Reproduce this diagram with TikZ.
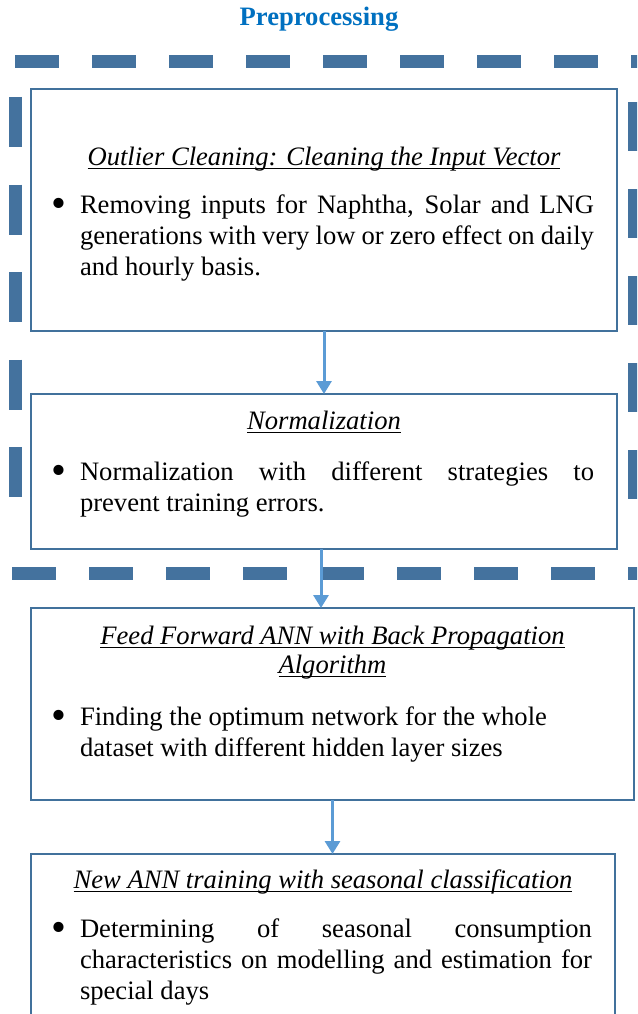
\documentclass[tikz,border=0pt]{standalone}
\usepackage{fontspec}
\setmainfont{Liberation Serif}
\usetikzlibrary{arrows.meta}
\definecolor{framecol}{RGB}{68,114,158}
\definecolor{boxcol}{RGB}{65,113,156}
\definecolor{arrowcol}{RGB}{91,155,213}
\definecolor{titlecol}{RGB}{0,112,192}
\hyphenpenalty=10000
\exhyphenpenalty=10000
\tolerance=10000
\newcommand{\stageul}[1]{\leavevmode\setbox0\hbox{#1}\rlap{\rule[-4pt]{\wd0}{1.5pt}}\box0}
\newcommand{\stagehead}[2][17.5pt]{{\centering\stageul{\textit{#2}}\par}\vspace{#1}}
\newcommand{\bitem}[1]{\noindent\hangindent=26pt\hangafter=1\makebox[26pt][l]{\hspace{-3pt}\raisebox{-4pt}{\scalebox{1.6}{\textbullet}}}#1\par}

\begin{document}
\begin{tikzpicture}[x=1pt,y=-1pt,
  stage/.style={draw=boxcol,line width=2pt,fill=white,anchor=north west,outer sep=0pt,inner xsep=23pt,inner ysep=0pt,
    text width=540pt,align=justify,font=\fontsize{26.6}{31}\selectfont},
  frameline/.style={draw=framecol,line width=13pt},
  flow/.style={draw=arrowcol,line width=3pt,-{Triangle[width=15pt,length=13pt]}}]
\useasboundingbox (0,0) rectangle (637,1014);
\clip (0,0) rectangle (637,1014);
% dashed frame round the preprocessing steps
\draw[frameline,dash pattern=on 44pt off 33pt] (15,62) -- (645,62);
\draw[frameline,dash pattern=on 44pt off 33pt] (12,573) -- (645,573);
\draw[frameline,dash pattern=on 50pt off 37.5pt] (15,97) -- (15,500);
\draw[frameline,dash pattern=on 49pt off 38pt] (634,102) -- (634,500);
\node[font=\fontsize{26.6}{31}\selectfont\bfseries,text=titlecol,anchor=base] (prep) at (319,26) {Preprocessing};
% stages
\node[stage,text height=76pt,text depth=166pt] (clean) at (31,89) {%
  \stagehead{Outlier Cleaning: Cleaning the Input Vector}
  \bitem{Removing inputs for Naphtha, Solar and LNG generations with very low or zero effect on daily and hourly basis.}};
\node[stage,text height=35pt,text depth=120pt] (norm) at (31,394) {%
  \stagehead[20pt]{Normalization}
  \bitem{Normalization with different strategies to prevent training errors.}};
\node[stage,text height=36pt,text depth=156pt,text width=557pt] (ffann) at (31,608) {%
  {\centering\stageul{\textit{Feed Forward ANN with Back Propagation}}\\[-2pt]\stageul{\textit{Algorithm}}\par}\vspace{21pt}
  {\raggedright\bitem{Finding the optimum network for the whole dataset with different hidden layer sizes}}};
\node[stage,text height=34pt,text depth=151pt,text width=538pt] (seasonal) at (31,854) {%
  \stagehead[18pt]{New ANN training with seasonal classification}
  \bitem{Determining of seasonal consumption characteristics on modelling and estimation for special days}};
% arrows
\draw[flow] (clean.south) -- (norm.north);
\draw[flow] ([xshift=-3pt]norm.south) -- ([xshift=-3pt]norm.south |- ffann.north);
\draw[flow] (ffann.south) -- (ffann.south |- seasonal.north);
\end{tikzpicture}
\end{document}
